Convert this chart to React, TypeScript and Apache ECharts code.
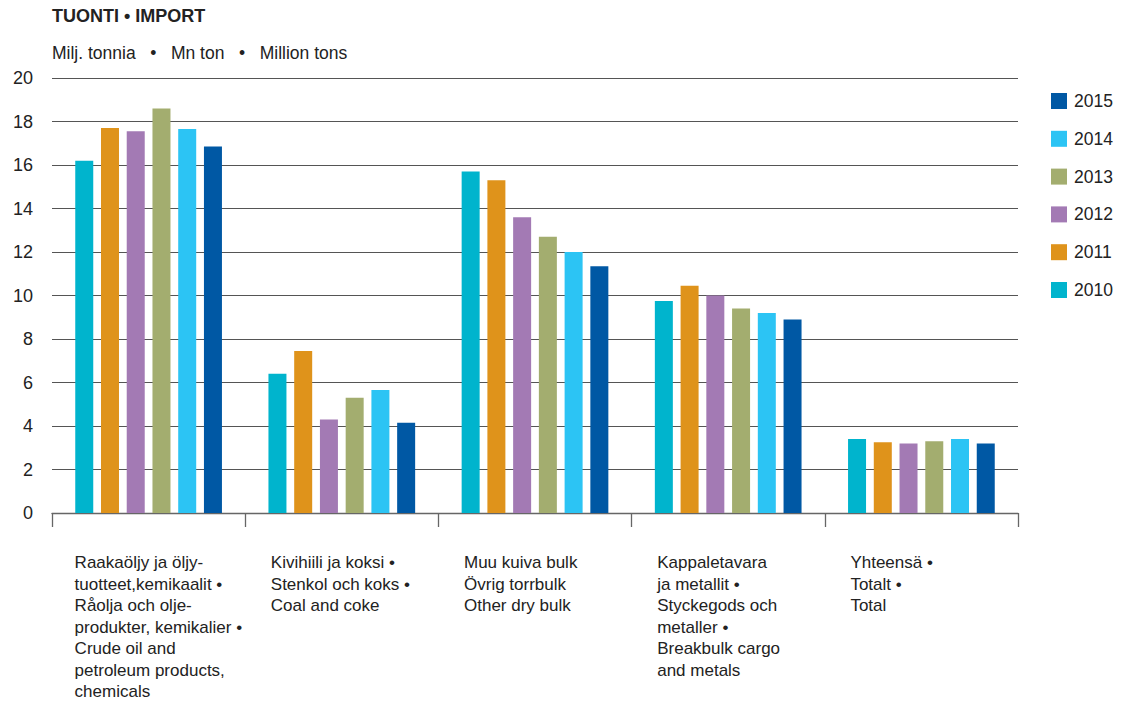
import React, { useEffect, useRef } from "react";
import * as echarts from "echarts";

const categories = [
  "Raakaöljy ja öljy-\ntuotteet,kemikaalit •\nRåolja och olje-\nprodukter, kemikalier •\nCrude oil and\npetroleum products,\nchemicals",
  "Kivihiili ja koksi •\nStenkol och koks •\nCoal and coke",
  "Muu kuiva bulk\nÖvrig torrbulk\nOther dry bulk",
  "Kappaletavara\nja metallit •\nStyckegods och\nmetaller •\nBreakbulk cargo\nand metals",
  "Yhteensä •\nTotalt •\nTotal",
];

const years = ["2010", "2011", "2012", "2013", "2014", "2015"];
const legendOrder = ["2015", "2014", "2013", "2012", "2011", "2010"];

const v2010 = [16.2, 6.4, 15.7, 9.75, 3.4];
const v2011 = [17.7, 7.45, 15.3, 10.45, 3.25];
const v2012 = [17.55, 4.3, 13.6, 10.0, 3.2];
const v2013 = [18.6, 5.3, 12.7, 9.4, 3.3];
const v2014 = [17.65, 5.65, 12.0, 9.2, 3.4];
const v2015 = [16.85, 4.15, 11.35, 8.9, 3.2];

const seriesValues = [v2010, v2011, v2012, v2013, v2014, v2015];
const colors = ["#00B4CD", "#DF931B", "#A37AB4", "#A3AD6F", "#2CC4F4", "#0058A4"];

const yTicks = [0, 2, 4, 6, 8, 10, 12, 14, 16, 18, 20];

const FONT = "'Liberation Sans', Arial, Helvetica, sans-serif";

export default function App() {
  const ref = useRef<HTMLDivElement>(null);
  useEffect(() => {
    document.body.style.margin = "0";
    const chart = echarts.init(ref.current!, undefined, { renderer: "svg" });
    const labelStyle = {
      align: "left",
      fontFamily: FONT,
      fontSize: 17,
      lineHeight: 21.5,
      color: "#222",
    };
    chart.setOption({
      animation: false,
      backgroundColor: "#ffffff",
      textStyle: { fontFamily: FONT },
      title: [
        {
          text: "TUONTI • IMPORT",
          left: 52,
          top: 7,
          padding: 0,
          textStyle: { fontFamily: FONT, fontSize: 18, fontWeight: "bold", color: "#222" },
        },
        {
          text: "Milj. tonnia   •   Mn ton   •   Million tons",
          left: 52,
          top: 44,
          padding: 0,
          textStyle: { fontFamily: FONT, fontSize: 17.5, fontWeight: "normal", color: "#222" },
        },
      ],
      legend: {
        orient: "vertical",
        left: 1046,
        top: 87,
        itemWidth: 16,
        itemHeight: 16,
        itemGap: 19.8,
        icon: "rect",
        data: legendOrder,
        textStyle: { fontFamily: FONT, fontSize: 17.5, color: "#222", padding: [0, 0, 0, 2] },
      },
      grid: { left: 52, right: 105, top: 78, bottom: 190, containLabel: false },
      xAxis: {
        type: "category",
        data: categories,
        boundaryGap: true,
        axisLine: { lineStyle: { color: "#666", width: 1.3 } },
        axisTick: { show: true, length: 14, lineStyle: { color: "#666", width: 1.3 } },
        axisLabel: {
          interval: 0,
          margin: 39,
          align: "center",
          verticalAlign: "top",
          formatter: (v: string, idx: number) => {
            const key = idx === 0 ? "b" : "a";
            return v
              .split("\n")
              .map((l) => "{" + key + "|" + l + "}")
              .join("\n");
          },
          rich: {
            a: { ...labelStyle, width: 142 },
            b: { ...labelStyle, width: 148 },
          },
        },
      },
      yAxis: {
        type: "value",
        min: yTicks[0],
        max: yTicks[yTicks.length - 1],
        interval: 2,
        axisLine: { show: false },
        axisTick: { show: false },
        axisLabel: { margin: 19, fontFamily: FONT, fontSize: 18, color: "#222" },
        splitLine: { lineStyle: { color: "#555", width: 1 } },
      },
      series: years.map((y, i) => ({
        name: y,
        type: "bar",
        data: seriesValues[i],
        barWidth: 18,
        barGap: "43%",
        itemStyle: { color: colors[i] },
      })),
    });
    return () => chart.dispose();
  }, []);
  return (
    <div
      ref={ref}
      style={{ position: "absolute", left: 0, top: 0, width: 1123, height: 703 }}
    />
  );
}
